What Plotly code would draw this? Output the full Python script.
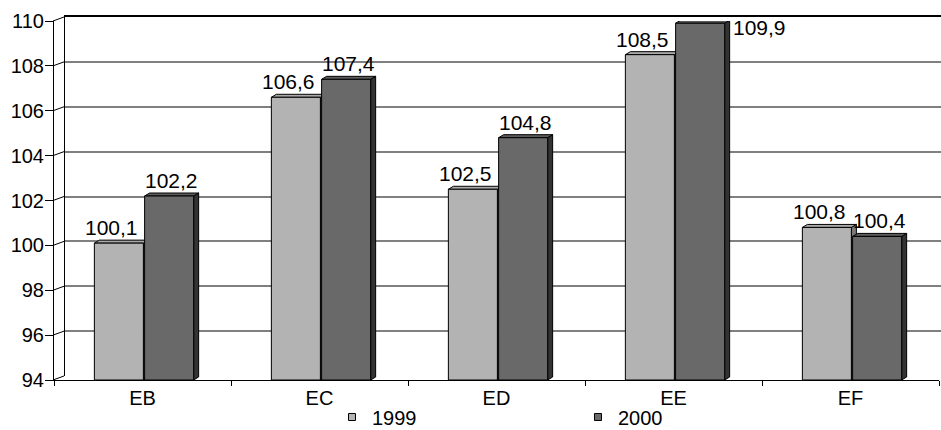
import plotly.graph_objects as go

# ---- data -------------------------------------------------------------
categories = ["EB", "EC", "ED", "EE", "EF"]
series_names = ["1999", "2000"]
values_1999 = [100.1, 106.6, 102.5, 108.5, 100.8]
values_2000 = [102.2, 107.4, 104.8, 109.9, 100.4]
y_ticks = [94, 96, 98, 100, 102, 104, 106, 108, 110]

# ---- geometry (pixels) ------------------------------------------------
W, H = 941, 430
FX0, FX1 = 54, 939          # front plane, horizontal extent
FY_TOP, FY_BOT = 21, 380    # front plane, vertical extent
WALL_DX, WALL_DY = 11, 4    # depth of the back wall
BAR_DX, BAR_DY = 5, 3       # depth of each column
Y_MIN, Y_MAX = y_ticks[0], y_ticks[-1]
X_MIN, X_MAX = -0.5, len(categories) - 0.5

PX_PER_X = (FX1 - FX0) / (X_MAX - X_MIN)
PX_PER_Y = (FY_BOT - FY_TOP) / (Y_MAX - Y_MIN)

FONT = "Liberation Sans"
FS_AXIS = 20
FS_LABEL = 21

front_colors = ["#b3b3b3", "#696969"]
top_colors = ["#a9a9a9", "#5c5c5c"]
side_colors = ["#7a7a7a", "#333333"]
bar_width = 0.277
bar_offsets = [-0.272, 0.012]
label_xshift = [-7, 2]


def fmt(v):
    return f"{v:.1f}".replace(".", ",")


def yfrac(v, dy_px=0):
    """paper fraction of a value on the front y scale, optionally raised by dy_px"""
    py = FY_BOT - (v - Y_MIN) * PX_PER_Y - dy_px
    return (H - py) / H


fig = go.Figure()

# back wall subplot (x / y): only carries the wall gridlines
fig.add_trace(go.Scatter(x=[None], y=[None], xaxis="x", yaxis="y",
                         showlegend=False, hoverinfo="skip"))

shapes = []
annotations = []
series = [values_1999, values_2000]
ddx = BAR_DX / PX_PER_X
ddy = BAR_DY / PX_PER_Y

for s, vals in enumerate(series):
    xs = list(range(len(categories)))
    # depth faces of the columns (drawn below the front faces)
    for i, v in enumerate(vals):
        x0 = i + bar_offsets[s]
        x1 = x0 + bar_width
        side = (f"M {x1},{Y_MIN} L {x1},{v} L {x1 + ddx},{v + ddy} "
                f"L {x1 + ddx},{Y_MIN + ddy} Z")
        top = (f"M {x0},{v} L {x0 + ddx},{v + ddy} L {x1 + ddx},{v + ddy} "
               f"L {x1},{v} Z")
        for path, col in ((side, side_colors[s]), (top, top_colors[s])):
            shapes.append(dict(type="path", path=path, xref="x2", yref="y2",
                               fillcolor=col, layer="below",
                               line=dict(color="black", width=1)))
        # value label
        if (Y_MAX - v) * PX_PER_Y < 24:
            annotations.append(dict(
                x=x1, y=v, xref="x2", yref="y2", text=fmt(v), showarrow=False,
                xanchor="left", yanchor="middle", xshift=BAR_DX + 1, yshift=-4,
                font=dict(family=FONT, size=FS_LABEL, color="black")))
        else:
            annotations.append(dict(
                x=(x0 + x1) / 2, y=v, xref="x2", yref="y2", text=fmt(v),
                showarrow=False, xanchor="center", yanchor="bottom",
                xshift=label_xshift[s], yshift=2,
                font=dict(family=FONT, size=FS_LABEL, color="black")))

    fig.add_trace(go.Bar(
        x=xs, y=[v - Y_MIN for v in vals], base=Y_MIN, xaxis="x2", yaxis="y2",
        width=bar_width, offset=bar_offsets[s], name=series_names[s],
        marker=dict(color=front_colors[s], line=dict(color="black", width=1)),
        showlegend=False, hoverinfo="skip"))

# legend entries
for s, name in enumerate(series_names):
    fig.add_trace(go.Scatter(
        x=[None], y=[None], xaxis="x2", yaxis="y2", mode="markers", name=name,
        marker=dict(symbol="square", size=7, color=front_colors[s],
                    line=dict(color="black", width=1))))

# left wall: connectors between front ticks and back-wall gridlines
for t in y_ticks:
    shapes.append(dict(type="line", xref="paper", yref="paper",
                       x0=(FX0 - 1) / W, y0=yfrac(t),
                       x1=(FX0 - 1 + WALL_DX) / W, y1=yfrac(t, WALL_DY),
                       line=dict(color="black", width=1), layer="above"))

fig.update_layout(
    width=W, height=H, autosize=False,
    margin=dict(l=0, r=0, t=0, b=0, pad=0, autoexpand=False),
    paper_bgcolor="white", plot_bgcolor="rgba(0,0,0,0)",
    barmode="overlay", separators=",.",
    font=dict(family=FONT, size=FS_AXIS, color="black"),
    shapes=shapes, annotations=annotations,
    # back wall
    xaxis=dict(domain=[(FX0 + WALL_DX) / W, 1.0], range=[X_MIN, X_MAX],
               anchor="y", side="top", showline=True, linecolor="black",
               linewidth=2, showgrid=False, zeroline=False, ticks="",
               showticklabels=False, fixedrange=True),
    yaxis=dict(domain=[yfrac(Y_MIN, WALL_DY), yfrac(Y_MAX, WALL_DY)],
               range=[Y_MIN, Y_MAX], anchor="x", tickvals=y_ticks,
               showgrid=True, gridcolor="#808080", gridwidth=1.5,
               showline=True, linecolor="black", linewidth=1, zeroline=False,
               ticks="", showticklabels=False, fixedrange=True),
    # front plane
    xaxis2=dict(domain=[FX0 / W, FX1 / W], range=[X_MIN, X_MAX], anchor="y2",
                tickmode="array", tickvals=list(range(len(categories))),
                ticktext=categories, ticks="", showline=True,
                linecolor="black", linewidth=1, showgrid=False, zeroline=False,
                minor=dict(tickmode="array",
                           tickvals=[i - 0.5 for i in range(len(categories) + 1)],
                           ticks="outside", ticklen=5, tickcolor="black",
                           showgrid=False),
                tickfont=dict(family=FONT, size=FS_AXIS, color="black"),
                fixedrange=True),
    yaxis2=dict(domain=[yfrac(Y_MIN), yfrac(Y_MAX)], range=[Y_MIN, Y_MAX],
                anchor="x2", tickmode="array", tickvals=y_ticks,
                ticks="outside", ticklen=8, tickcolor="black", showline=True,
                linecolor="black", linewidth=1, showgrid=False, zeroline=False,
                ticklabelstandoff=-3,
                tickfont=dict(family=FONT, size=FS_AXIS, color="black"),
                fixedrange=True),
    legend=dict(orientation="h", x=332 / W, xanchor="left", y=(H - 417) / H,
                yanchor="middle", entrywidth=201, entrywidthmode="pixels",
                font=dict(family=FONT, size=FS_AXIS, color="black"),
                bgcolor="rgba(0,0,0,0)", borderwidth=0, itemclick=False),
)

fig.write_html("out.html")
